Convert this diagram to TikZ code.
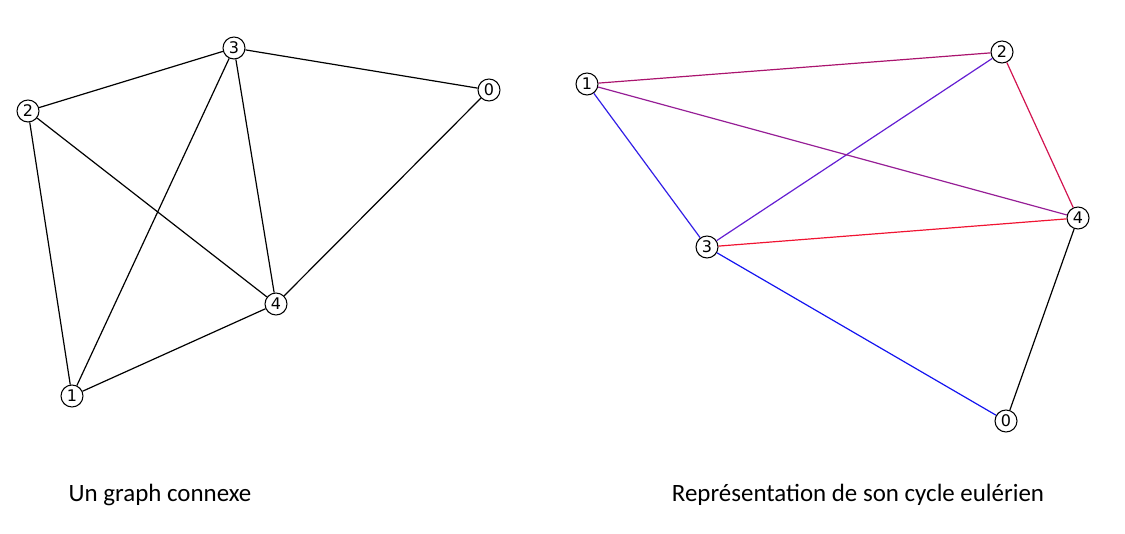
\documentclass[tikz,border=0pt]{standalone}
\usepackage{fontspec}
\setmainfont{Carlito}
\newfontfamily\nodefont{DejaVu Sans}
\definecolor{cycA}{RGB}{20,20,240}
\definecolor{cycB}{RGB}{50,30,230}
\definecolor{cycC}{RGB}{100,30,210}
\definecolor{cycD}{RGB}{150,30,150}
\definecolor{cycE}{RGB}{170,20,110}
\definecolor{cycF}{RGB}{210,20,80}
\definecolor{cycG}{RGB}{240,20,50}

\begin{document}
\begin{tikzpicture}[
    x = 0.75pt, y = -0.75pt,
    line width = 0.9pt,
    %
    vertex/.style = {draw, circle, fill = white,
      line width = 0.8pt,
      inner sep = 0pt,
      font = \nodefont\fontsize{12}{12}\selectfont,
      minimum size = {16.5pt}},
    %
    caption/.style = {font = \fontsize{18.7}{22}\selectfont},
    ]

    \useasboundingbox (0, 0) rectangle (1125, 534);

    % graphe connexe
    \node at (489, 90) [vertex, name = L0] {0};
    \node at (72, 396) [vertex, name = L1] {1};
    \node at (28, 111) [vertex, name = L2] {2};
    \node at (234, 48) [vertex, name = L3] {3};
    \node at (276, 304) [vertex, name = L4] {4};

    \draw (L3) -- (L0);
    \draw (L3) -- (L2);
    \draw (L3) -- (L1);
    \draw (L3) -- (L4);
    \draw (L2) -- (L1);
    \draw (L2) -- (L4);
    \draw (L4) -- (L0);
    \draw (L4) -- (L1);

    % cycle eulerien
    \node at (1006, 421) [vertex, name = R0] {0};
    \node at (587, 84) [vertex, name = R1] {1};
    \node at (1002, 52) [vertex, name = R2] {2};
    \node at (707, 247) [vertex, name = R3] {3};
    \node at (1078, 218) [vertex, name = R4] {4};

    \draw [cycA] (R3) -- (R0);
    \draw [cycB] (R3) -- (R1);
    \draw [cycC] (R3) -- (R2);
    \draw [cycD] (R1) -- (R4);
    \draw [cycE] (R1) -- (R2);
    \draw [cycF] (R2) -- (R4);
    \draw [cycG] (R3) -- (R4);
    \draw (R4) -- (R0);

    \node at (160, 495) [caption, name = capL] {Un graph connexe};
    \node at (858, 495) [caption, name = capR]
    {Représentation de son cycle eulérien};

  \end{tikzpicture}
\end{document}
